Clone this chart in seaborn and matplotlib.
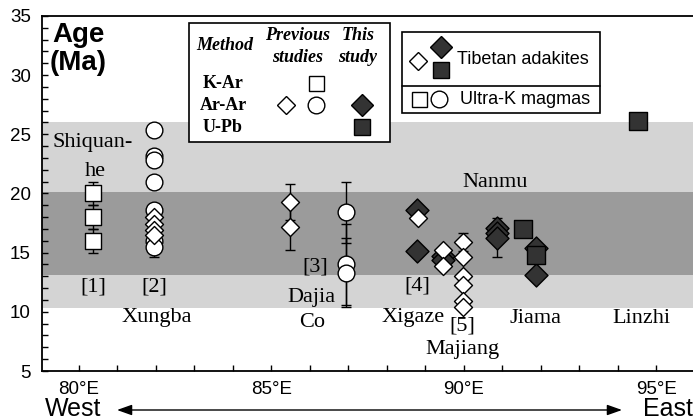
import matplotlib
matplotlib.use("Agg")
import matplotlib.pyplot as plt
from matplotlib.patches import Rectangle
from matplotlib.lines import Line2D
from matplotlib.ticker import MultipleLocator, FuncFormatter
import seaborn as sns

# 数据：经度 / 年龄 (Ma)
# 前人研究 K-Ar (空心方块)
kar_lon = [80.36, 80.36, 80.36]
kar_age = [20.0, 18.0, 16.0]

# 前人研究 Ar-Ar 埃达克岩 (空心菱形)
arar_d_lon = [81.95, 81.95, 81.95, 81.95, 85.48, 85.48, 88.80, 89.45, 89.45,
              89.97, 89.97, 89.97, 89.97, 89.97, 89.97]
arar_d_age = [18.0, 17.4, 16.9, 16.5, 19.3, 17.2, 17.9, 15.2, 13.9,
              15.9, 14.6, 13.0, 12.3, 10.9, 10.4]

# 前人研究 Ar-Ar 超钾质 (空心圆)
arar_c_lon = [81.95, 81.95, 81.95, 81.95, 81.95, 81.95, 81.95, 86.93, 86.93, 86.93]
arar_c_age = [25.4, 23.2, 22.8, 21.0, 18.6, 16.0, 15.5, 18.4, 14.0, 13.3]

# 本研究 Ar-Ar (实心菱形)
this_d_lon = [88.78, 88.78, 89.45, 89.45, 90.85, 90.85, 90.85, 91.87, 91.87]
this_d_age = [18.6, 15.1, 14.7, 14.4, 17.1, 16.7, 16.2, 15.4, 13.1]

# 本研究 U-Pb (实心方块)
this_s_lon = [91.53, 91.87, 94.52]
this_s_age = [17.0, 14.8, 26.1]

# 误差棒
err_lon = [80.36, 80.36, 80.36, 81.95, 85.48, 85.48, 86.93, 86.93, 86.93, 89.97, 90.85]
err_age = [20.0, 18.0, 16.0, 16.75, 19.3, 17.2, 18.4, 14.0, 13.3, 15.9, 16.25]
err_val = [1.0, 1.0, 1.0, 2.15, 1.5, 2.0, 2.6, 3.4, 2.9, 0.8, 1.65]

# 地名标注
place_names = ["Shiquan-", "he", "[1]", "[2]", "Xungba", "[3]", "Dajia", "Co", "[4]",
               "Xigaze", "[5]", "Majiang", "Jiama", "Linzhi", "Nanmu"]
place_lon = [80.36, 80.42, 80.36, 81.95, 82.03, 86.13, 86.05, 86.05, 88.78,
             88.68, 89.97, 89.97, 91.87, 94.62, 90.81]
place_age = [24.3, 21.9, 12.1, 12.1, 9.5, 13.8, 11.2, 9.1, 12.2,
             9.5, 8.8, 6.8, 9.4, 9.4, 20.9]

DARK = "#333333"
W, H = 693, 420


def px(x, y):
    return x / W, 1 - y / H


sns.set_style("ticks")
plt.rcParams["font.family"] = ["Liberation Sans", "DejaVu Sans"]
for k in ["text.color", "axes.labelcolor", "xtick.color", "ytick.color", "axes.edgecolor"]:
    plt.rcParams[k] = "black"
SERIF = ["Liberation Serif", "DejaVu Serif"]

fig = plt.figure(figsize=(W / 100, H / 100), dpi=100)
ax = fig.add_axes([42 / W, 1 - 371 / H, (W - 42) / W, (371 - 16) / H])

# 灰色背景带
ax.axhspan(10.3, 26.0, color="#d4d4d4", lw=0, zorder=0)
ax.axhspan(13.1, 20.1, color="#9b9b9b", lw=0, zorder=0)

ax.errorbar(err_lon, err_age, yerr=err_val, fmt="none", ecolor="black",
            elinewidth=1, capsize=3.5, capthick=1, zorder=2)

kw = dict(edgecolor="black", linewidth=1, ax=ax, legend=False)
sns.scatterplot(x=this_d_lon, y=this_d_age, marker="D", s=137, color=DARK, zorder=3, **kw)
sns.scatterplot(x=arar_c_lon, y=arar_c_age, marker="o", s=145, color="white", zorder=4, **kw)
sns.scatterplot(x=arar_d_lon, y=arar_d_age, marker="D", s=84, color="white", zorder=5, **kw)
sns.scatterplot(x=kar_lon, y=kar_age, marker="s", s=117, color="white", zorder=5, **kw)
sns.scatterplot(x=this_s_lon, y=this_s_age, marker="s", s=150, color=DARK, zorder=5, **kw)

for name, lo, ag in zip(place_names, place_lon, place_age):
    ax.text(lo, ag, name, family=SERIF, fontsize=16, color="black",
            ha="center", va="center", zorder=6)

ax.set_xlim(79.04, 95.95)
ax.set_ylim(5, 35)
ax.xaxis.set_major_locator(MultipleLocator(5))
ax.xaxis.set_minor_locator(MultipleLocator(1))
ax.yaxis.set_major_locator(MultipleLocator(5))
ax.yaxis.set_minor_locator(MultipleLocator(1))
ax.xaxis.set_major_formatter(FuncFormatter(lambda v, p: f"{v:.0f}°E"))
ax.tick_params(which="both", direction="in", length=4, width=1, labelsize=13.5,
               color="black", labelcolor="black")
ax.tick_params(axis="x", pad=7)
ax.tick_params(axis="y", pad=8)
ax.spines["right"].set_visible(False)
for s in ["top", "left", "bottom"]:
    ax.spines[s].set_linewidth(1.3)
    ax.spines[s].set_color("black")
ax.set_xlabel("")
ax.set_ylabel("")

# 纵轴标题
fig.text(*px(52, 35), "Age", fontsize=20, fontweight="bold", ha="left", va="center")
fig.text(*px(50, 63), "(Ma)", fontsize=20, fontweight="bold", ha="left", va="center")

# 图例框 1
fig.add_artist(Rectangle(px(189, 142), 201 / W, 119 / H, transform=fig.transFigure,
                         facecolor="white", edgecolor="black", lw=1.2, zorder=7))
bi = dict(family=SERIF, fontsize=13, fontweight="bold", fontstyle="italic",
          ha="center", va="center", zorder=8)
fig.text(*px(225, 45), "Method", **bi)
fig.text(*px(298, 35), "Previous", **bi)
fig.text(*px(298, 57), "studies", **bi)
fig.text(*px(358, 35), "This", **bi)
fig.text(*px(358, 57), "study", **bi)
bd = dict(family=SERIF, fontsize=13, fontweight="bold", ha="center", va="center", zorder=8)
fig.text(*px(223, 83), "K-Ar", **bd)
fig.text(*px(223, 105), "Ar-Ar", **bd)
fig.text(*px(223, 127), "U-Pb", **bd)


def sym(x, y, marker, ms, fc):
    fig.add_artist(Line2D([x / W], [1 - y / H], transform=fig.transFigure, marker=marker,
                          markersize=ms, markerfacecolor=fc, markeredgecolor="black",
                          markeredgewidth=1, linestyle="none", zorder=9))


sym(316, 83, "s", 10.8, "white")
sym(286, 105, "D", 9.2, "white")
sym(316, 105, "o", 12, "white")
sym(362, 105, "D", 11.7, DARK)
sym(362, 127, "s", 12.2, DARK)

# 图例框 2
fig.add_artist(Rectangle(px(402, 113), 198 / W, 81 / H, transform=fig.transFigure,
                         facecolor="white", edgecolor="black", lw=1.2, zorder=7))
fig.add_artist(Line2D([402 / W, 600 / W], [1 - 86 / H] * 2, transform=fig.transFigure,
                      color="black", lw=1.2, zorder=8))
fig.text(*px(457, 59), "Tibetan adakites", fontsize=13, ha="left", va="center", zorder=8)
fig.text(*px(460, 99), "Ultra-K magmas", fontsize=13, ha="left", va="center", zorder=8)
sym(418, 61, "D", 9.2, "white")
sym(441, 47, "D", 11.7, DARK)
sym(441, 70, "s", 12.2, DARK)
sym(419, 99, "s", 10.8, "white")
sym(439, 99, "o", 12, "white")

# 西-东箭头
fig.text(*px(73, 409), "West", fontsize=18, ha="center", va="center")
fig.text(*px(668, 409), "East", fontsize=18, ha="center", va="center")
ax.annotate("", xy=px(622, 410), xytext=px(117, 410), xycoords="figure fraction",
            textcoords="figure fraction",
            arrowprops=dict(arrowstyle="<|-|>,head_length=0.9,head_width=0.32",
                            color="black", lw=1, shrinkA=0, shrinkB=0))

fig.savefig("out.png", dpi=100)
